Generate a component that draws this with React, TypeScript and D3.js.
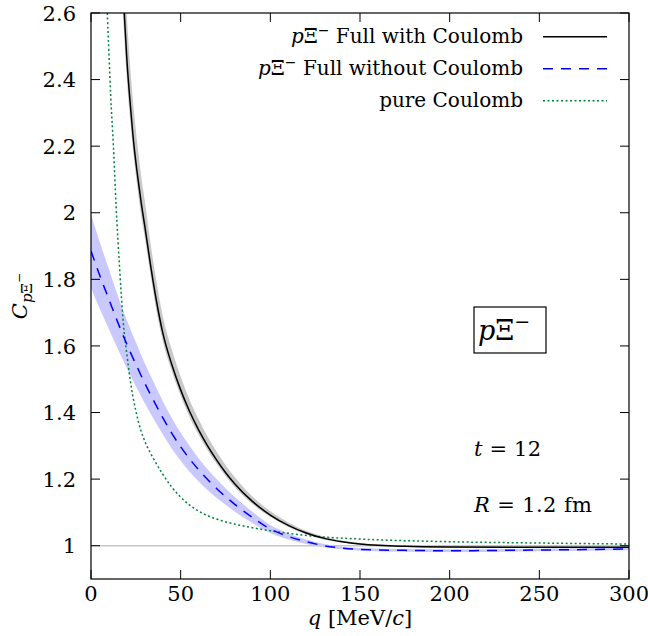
import React, { useEffect, useRef } from 'react';
import * as d3 from 'd3';

// full with Coulomb (black) + grey band
const qFull = [16, 18, 20, 22, 24, 26, 28, 30, 33, 36, 40, 45, 50, 55, 60, 65, 70, 75, 80, 90, 100, 110, 120, 130, 140, 150, 175, 200, 250, 300];
const cFull = [2.9, 2.65, 2.46, 2.32, 2.2, 2.11, 2.03, 1.96, 1.85, 1.75, 1.64, 1.545, 1.468, 1.403, 1.348, 1.3, 1.258, 1.22, 1.187, 1.133, 1.092, 1.061, 1.038, 1.022, 1.012, 1.005, 0.998, 0.996, 0.995, 0.995];
const cFullHi = [3.1, 2.8, 2.59, 2.43, 2.3, 2.2, 2.11, 2.035, 1.915, 1.81, 1.69, 1.59, 1.508, 1.438, 1.38, 1.328, 1.283, 1.242, 1.207, 1.148, 1.104, 1.07, 1.045, 1.027, 1.016, 1.008, 1.001, 0.999, 0.998, 0.998];
const cFullLo = [2.8, 2.58, 2.4, 2.27, 2.16, 2.07, 1.99, 1.925, 1.82, 1.72, 1.615, 1.525, 1.45, 1.386, 1.333, 1.287, 1.246, 1.209, 1.177, 1.125, 1.086, 1.056, 1.034, 1.019, 1.01, 1.003, 0.996, 0.994, 0.993, 0.993];

// full without Coulomb (blue dashed) + band
const qNoC = [0, 5, 10, 15, 20, 25, 30, 35, 40, 45, 50, 60, 70, 80, 90, 100, 110, 120, 130, 140, 150, 175, 200, 250, 300];
const cNoC = [1.885, 1.81, 1.74, 1.67, 1.605, 1.545, 1.488, 1.435, 1.385, 1.338, 1.297, 1.228, 1.172, 1.125, 1.085, 1.05, 1.028, 1.012, 1.0, 0.993, 0.989, 0.986, 0.985, 0.987, 0.99];
const cNoCHi = [1.995, 1.91, 1.83, 1.75, 1.677, 1.611, 1.548, 1.49, 1.435, 1.384, 1.339, 1.263, 1.2, 1.147, 1.102, 1.062, 1.037, 1.019, 1.005, 0.997, 0.993, 0.99, 0.989, 0.991, 0.994];
const cNoCLo = [1.775, 1.71, 1.65, 1.59, 1.533, 1.479, 1.428, 1.38, 1.335, 1.292, 1.255, 1.193, 1.144, 1.103, 1.068, 1.038, 1.019, 1.005, 0.995, 0.989, 0.985, 0.982, 0.981, 0.983, 0.986];

// pure Coulomb (green dotted)
const qCoul = [7, 8, 9, 10, 11, 12.5, 14, 16, 18, 20, 22.5, 25, 27.5, 30, 35, 40, 45, 50, 55, 60, 70, 80, 90, 100, 115, 130, 150, 200, 250, 300];
const cCoul = [3.1, 2.85, 2.62, 2.48, 2.35, 2.2, 2.02, 1.83, 1.67, 1.575, 1.475, 1.405, 1.352, 1.314, 1.26, 1.215, 1.176, 1.146, 1.122, 1.104, 1.08, 1.065, 1.054, 1.045, 1.034, 1.026, 1.02, 1.012, 1.008, 1.005];

const xTicks = [0, 50, 100, 150, 200, 250, 300];
const yTicks = [1, 1.2, 1.4, 1.6, 1.8, 2, 2.2, 2.4, 2.6];

const FONT = "'DejaVu Serif', 'Liberation Serif', serif";

const App = () => {
  const ref = useRef<SVGSVGElement>(null);

  useEffect(() => {
    const svg = d3.select(ref.current);
    svg.selectAll('*').remove();
    svg.style('font-family', FONT);

    const margin = { top: 13, right: 19, bottom: 57, left: 91 };
    const width = 648 - margin.left - margin.right;
    const height = 636 - margin.top - margin.bottom;

    const x = d3.scaleLinear().domain([0, 300]).range([0, width]);
    const y = d3.scaleLinear().domain([0.9, 2.6]).range([height, 0]);

    svg.append('defs').append('clipPath').attr('id', 'plotclip')
      .append('rect').attr('width', width).attr('height', height);

    const g = svg.append('g').attr('transform', `translate(${margin.left},${margin.top})`);
    const plot = g.append('g').attr('clip-path', 'url(#plotclip)');

    // line at C = 1
    plot.append('line')
      .attr('x1', 0).attr('x2', width)
      .attr('y1', y(1)).attr('y2', y(1))
      .attr('stroke', '#c8c8c8').attr('stroke-width', 1.5);

    const band = (qs: number[], lo: number[], hi: number[]) =>
      d3.area<number>()
        .x((d, i) => x(qs[i]))
        .y0((d, i) => y(lo[i]))
        .y1((d, i) => y(hi[i]))
        .curve(d3.curveMonotoneX)(qs);

    const line = (qs: number[], cs: number[]) =>
      d3.line<number>()
        .x((d, i) => x(qs[i]))
        .y((d, i) => y(cs[i]))
        .curve(d3.curveMonotoneX)(qs);

    plot.append('path').attr('d', band(qNoC, cNoCLo, cNoCHi)).attr('fill', '#c9c9ff');
    plot.append('path').attr('d', band(qFull, cFullLo, cFullHi)).attr('fill', '#c8c8c8');

    plot.append('path').attr('d', line(qCoul, cCoul))
      .attr('fill', 'none').attr('stroke', '#00843d').attr('stroke-width', 1.5)
      .attr('stroke-dasharray', '2,2.5');
    plot.append('path').attr('d', line(qNoC, cNoC))
      .attr('fill', 'none').attr('stroke', '#0000ff').attr('stroke-width', 1.5)
      .attr('stroke-dasharray', '10,8');
    plot.append('path').attr('d', line(qFull, cFull))
      .attr('fill', 'none').attr('stroke', '#000').attr('stroke-width', 1.5);

    // ticks (inward, mirrored)
    const tk = 9;
    xTicks.forEach((t) => {
      g.append('line').attr('x1', x(t)).attr('x2', x(t)).attr('y1', height).attr('y2', height - tk)
        .attr('stroke', '#000').attr('stroke-width', 1);
      g.append('line').attr('x1', x(t)).attr('x2', x(t)).attr('y1', 0).attr('y2', tk)
        .attr('stroke', '#000').attr('stroke-width', 1);
      g.append('text').attr('x', x(t)).attr('y', height + 22)
        .attr('text-anchor', 'middle').attr('font-size', 21)
        .text(t);
    });
    yTicks.forEach((t) => {
      g.append('line').attr('x1', 0).attr('x2', tk).attr('y1', y(t)).attr('y2', y(t))
        .attr('stroke', '#000').attr('stroke-width', 1);
      g.append('line').attr('x1', width).attr('x2', width - tk).attr('y1', y(t)).attr('y2', y(t))
        .attr('stroke', '#000').attr('stroke-width', 1);
      g.append('text').attr('x', -15).attr('y', y(t)).attr('dy', '0.36em')
        .attr('text-anchor', 'end').attr('font-size', 21)
        .text(String(t));
    });

    g.append('rect').attr('width', width).attr('height', height)
      .attr('fill', 'none').attr('stroke', '#000').attr('stroke-width', 1.2);

    // axis labels
    const xl = g.append('text').attr('x', width / 2).attr('y', height + 46)
      .attr('text-anchor', 'middle').attr('font-size', 21);
    xl.append('tspan').attr('font-style', 'italic').text('q');
    xl.append('tspan').text(' [MeV/');
    xl.append('tspan').attr('font-style', 'italic').text('c');
    xl.append('tspan').text(']');

    const yl = svg.append('text')
      .attr('transform', `translate(27,${margin.top + height / 2}) rotate(-90)`)
      .attr('text-anchor', 'middle').attr('font-size', 21);
    yl.append('tspan').attr('font-style', 'italic').text('C');
    yl.append('tspan').attr('font-size', 15).attr('dy', 5).attr('font-style', 'italic').text('p');
    yl.append('tspan').attr('font-size', 15).text('Ξ');
    yl.append('tspan').attr('font-size', 12).attr('dy', -9).text('−');

    // legend
    const legend = [
      { label: 'Full with Coulomb', pxi: true, color: '#000', dash: null as string | null },
      { label: 'Full without Coulomb', pxi: true, color: '#0000ff', dash: '10,8' },
      { label: 'pure Coulomb', pxi: false, color: '#00843d', dash: '2,2.5' },
    ];
    legend.forEach((d, i) => {
      const ly = 36.7 + i * 32;
      const t = svg.append('text').attr('x', 523).attr('y', ly + 6)
        .attr('text-anchor', 'end').attr('font-size', 20);
      if (d.pxi) {
        t.append('tspan').attr('font-style', 'italic').text('p');
        t.append('tspan').text('Ξ');
        t.append('tspan').attr('font-size', 14).attr('dy', -8).text('−');
        t.append('tspan').attr('dy', 8).text(' ' + d.label);
      } else {
        t.append('tspan').text(d.label);
      }
      const ln = svg.append('line').attr('x1', 543).attr('x2', 607).attr('y1', ly).attr('y2', ly)
        .attr('stroke', d.color).attr('stroke-width', 1.5);
      if (d.dash) ln.attr('stroke-dasharray', d.dash);
    });

    // boxed label
    svg.append('rect').attr('x', 474).attr('y', 307).attr('width', 72).attr('height', 46)
      .attr('fill', 'none').attr('stroke', '#000').attr('stroke-width', 1.2);
    const bl = svg.append('text').attr('x', 478).attr('y', 340).attr('font-size', 27);
    bl.append('tspan').attr('font-style', 'italic').text('p');
    bl.append('tspan').text('Ξ');
    bl.append('tspan').attr('font-size', 19).attr('dy', -12).text('−');

    const t1 = svg.append('text').attr('x', 474).attr('y', 456).attr('font-size', 21)
      .attr('textLength', 67).attr('lengthAdjust', 'spacing');
    t1.append('tspan').attr('font-style', 'italic').text('t');
    t1.append('tspan').text(' = 12');

    const t2 = svg.append('text').attr('x', 474).attr('y', 512).attr('font-size', 21)
      .attr('textLength', 118).attr('lengthAdjust', 'spacing');
    t2.append('tspan').attr('font-style', 'italic').text('R');
    t2.append('tspan').text(' = 1.2 fm');
  }, []);

  return (
    <svg ref={ref} width={648} height={636}
      style={{ position: 'absolute', left: 0, top: 0, background: '#fff' }} />
  );
};

export default App;
